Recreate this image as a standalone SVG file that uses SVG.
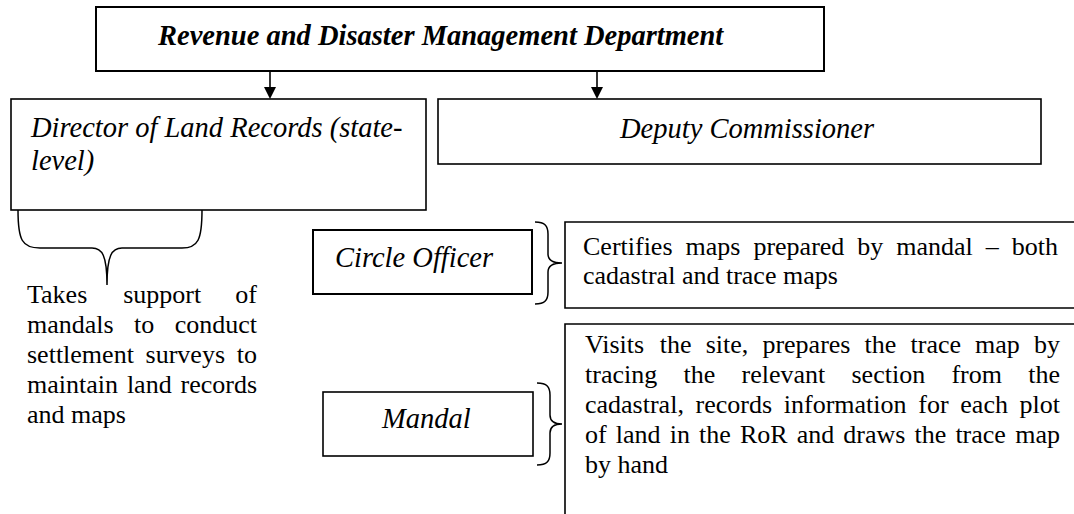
<svg xmlns="http://www.w3.org/2000/svg" width="1074" height="514" viewBox="0 0 1074 514">
  <rect width="1074" height="514" fill="#ffffff"/>
  <g id="node-department">
    <rect x="96" y="7" width="728" height="64" fill="#ffffff" stroke="#000000" stroke-width="2"/>
    <text x="158" y="45" font-family="Liberation Serif" font-size="28.5" font-style="italic" font-weight="bold">Revenue and Disaster Management Department</text>
  </g>
  <g id="node-director">
    <rect x="11" y="99" width="415" height="111" fill="#ffffff" stroke="#000000" stroke-width="1.6"/>
    <text x="31" y="137" font-family="Liberation Serif" font-size="28.5" font-style="italic">Director of Land Records (state-</text>
    <text x="31" y="170" font-family="Liberation Serif" font-size="28.5" font-style="italic">level)</text>
  </g>
  <g id="node-deputy">
    <rect x="438" y="99" width="603" height="65" fill="#ffffff" stroke="#000000" stroke-width="1.6"/>
    <text x="620" y="138" font-family="Liberation Serif" font-size="28.5" font-style="italic">Deputy Commissioner</text>
  </g>
  <g id="node-director-note">
    <text font-family="Liberation Serif" font-size="26"><tspan x="27" y="303">Takes</tspan><tspan x="123.2">support</tspan><tspan x="257" text-anchor="end">of</tspan><tspan x="27" y="333">mandals</tspan><tspan x="134.1">to</tspan><tspan x="257" text-anchor="end">conduct</tspan><tspan x="27" y="363">settlement</tspan><tspan x="145.6">surveys</tspan><tspan x="257" text-anchor="end">to</tspan><tspan x="27" y="393">maintain</tspan><tspan x="126.9">land</tspan><tspan x="257" text-anchor="end">records</tspan><tspan x="27" y="423">and maps</tspan></text>
  </g>
  <g id="node-circle-officer">
    <rect x="313" y="230" width="219" height="64" fill="#ffffff" stroke="#000000" stroke-width="2"/>
    <text x="335" y="267" font-family="Liberation Serif" font-size="28.5" font-style="italic">Circle Officer</text>
  </g>
  <g id="node-circle-note">
    <path d="M1076,222 L565,222 L565,308 L1076,308" fill="none" stroke="#000000" stroke-width="1.6"/>
    <text font-family="Liberation Serif" font-size="26"><tspan x="583" y="255">Certifies</tspan><tspan x="685.5">maps</tspan><tspan x="753.4">prepared</tspan><tspan x="857.3">by</tspan><tspan x="896.3">mandal</tspan><tspan x="985.8">&#8211;</tspan><tspan x="1058" text-anchor="end">both</tspan><tspan x="583" y="284">cadastral and trace maps</tspan></text>
  </g>
  <g id="node-mandal">
    <rect x="323" y="392" width="210" height="64" fill="#ffffff" stroke="#000000" stroke-width="1.6"/>
    <text x="382" y="428" font-family="Liberation Serif" font-size="28.5" font-style="italic">Mandal</text>
  </g>
  <g id="node-mandal-note">
    <path d="M1076,324 L565,324 L565,516" fill="none" stroke="#000000" stroke-width="1.6"/>
    <text font-family="Liberation Serif" font-size="26"><tspan x="585" y="353">Visits</tspan><tspan x="659.8">the</tspan><tspan x="705.7">site,</tspan><tspan x="762.4">prepares</tspan><tspan x="864.6">the</tspan><tspan x="910.5">trace</tspan><tspan x="975.1">map</tspan><tspan x="1060" text-anchor="end">by</tspan><tspan x="585" y="383">tracing</tspan><tspan x="683.5">the</tspan><tspan x="741.5">relevant</tspan><tspan x="851.5">section</tspan><tspan x="951.4">from</tspan><tspan x="1060" text-anchor="end">the</tspan><tspan x="585" y="413">cadastral,</tspan><tspan x="695.6">records</tspan><tspan x="783.8">information</tspan><tspan x="918.3">for</tspan><tspan x="960.3">each</tspan><tspan x="1060" text-anchor="end">plot</tspan><tspan x="585" y="443">of</tspan><tspan x="615.8">land</tspan><tspan x="669.7">in</tspan><tspan x="699">the</tspan><tspan x="739.9">RoR</tspan><tspan x="796.7">and</tspan><tspan x="843.3">draws</tspan><tspan x="914.5">the</tspan><tspan x="955.4">trace</tspan><tspan x="1060" text-anchor="end">map</tspan><tspan x="585" y="473">by hand</tspan></text>
  </g>
  <g id="connectors" fill="none" stroke="#000000">
    <line x1="270" y1="71" x2="270" y2="88" stroke-width="1.6"/>
    <path d="M264,87 L276,87 L270,99 Z" fill="#000000" stroke="none"/>
    <line x1="597" y1="71" x2="597" y2="88" stroke-width="1.6"/>
    <path d="M591,87 L603,87 L597,99 Z" fill="#000000" stroke="none"/>
    <path stroke-width="1.5" d="M18,210 C18,240 22,248 40,248 L92,248 C102,248 107,255 107,285 C107,255 112,248 122,248 L182,248 C198,248 202,240 202,210"/>
    <path stroke-width="1.5" d="M535,222 C545,222 548,226 548,234 L548,254 C548,260 552,263 562,263 C552,263 548,266 548,272 L548,292 C548,300 545,304 535,304"/>
    <path stroke-width="1.5" d="M537,383 C547,383 550,387 550,395 L550,415 C550,421 554,424 562,424 C554,424 550,427 550,433 L550,453 C550,461 547,465 537,465"/>
  </g>
</svg>
